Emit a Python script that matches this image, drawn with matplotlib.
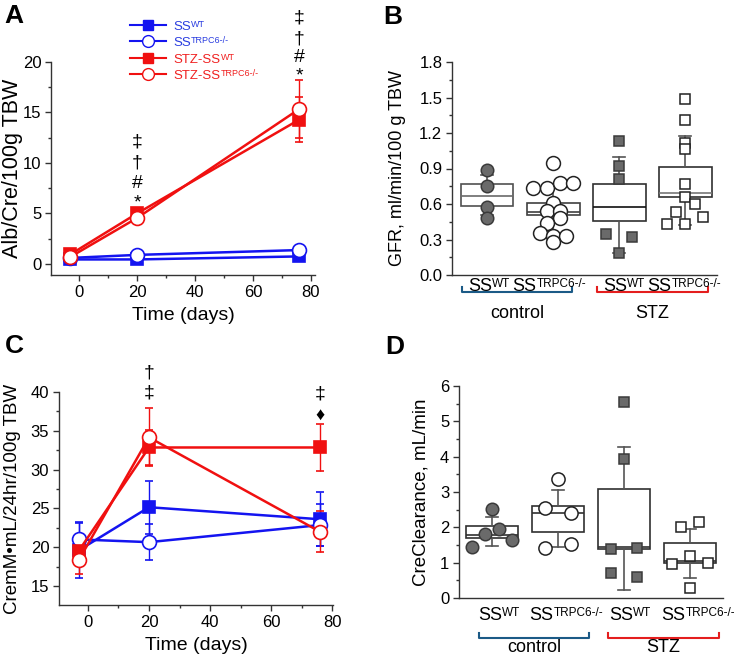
import matplotlib
matplotlib.use("Agg")
import matplotlib.pyplot as plt
from matplotlib.lines import Line2D
from matplotlib.ticker import MultipleLocator, FormatStrFormatter

plt.rcParams['font.family'] = ['Liberation Sans', 'DejaVu Sans']

# ---------------- data ----------------
days = [-3, 20, 76]
series_base = ['SS', 'SS', 'STZ-SS', 'STZ-SS']
series_sup = ['WT', 'TRPC6-/-', 'WT', 'TRPC6-/-']

# Panel A: Alb/Cre
a_ss_wt = [0.45, 0.45, 0.75]
a_ss_wt_err = [0.2, 0.2, 0.3]
a_ss_ko = [0.6, 0.9, 1.38]
a_ss_ko_err = [0.3, 0.35, 0.4]
a_stz_wt = [0.95, 5.0, 14.3]
a_stz_wt_err = [0.3, 0.3, 2.2]
a_stz_ko = [0.7, 4.55, 15.35]
a_stz_ko_err = [0.4, 0.35, 2.9]

# Panel C: CremM
c_ss_wt = [19.6, 25.15, 23.6]
c_ss_wt_err = [3.6, 3.4, 3.5]
c_ss_ko = [21.0, 20.65, 22.85]
c_ss_ko_err = [2.1, 2.3, 2.7]
c_stz_wt = [19.55, 32.85, 32.85]
c_stz_wt_err = [1.5, 2.3, 3.0]
c_stz_ko = [18.35, 34.15, 22.0]
c_stz_ko_err = [1.8, 3.75, 2.65]

group_base = ['SS', 'SS', 'SS', 'SS']
group_sup = ['WT', 'TRPC6-/-', 'WT', 'TRPC6-/-']
condition_labels = ['control', 'STZ']

# Panel B: GFR box stats (q1, median, q3, whisker low, whisker high)
b_q1 = [0.583, 0.505, 0.456, 0.657]
b_med = [0.665, 0.535, 0.572, 0.696]
b_q3 = [0.767, 0.611, 0.769, 0.916]
b_wlo = [0.507, 0.355, 0.189, 0.42]
b_whi = [0.845, 0.752, 0.995, 1.175]
b_pts = [
    [0.888, 0.75, 0.577, 0.485],
    [0.944, 0.738, 0.733, 0.78, 0.778, 0.606, 0.544, 0.541, 0.479, 0.442, 0.352, 0.332, 0.332, 0.282],
    [1.133, 0.921, 0.809, 0.347, 0.324, 0.189],
    [1.485, 1.31, 1.118, 1.062, 0.767, 0.662, 0.598, 0.535, 0.488, 0.428, 0.428],
]
b_pts_x = [
    [0, 0, 0, 0],
    [0, -0.3, -0.1, 0.1, 0.3, 0, -0.1, 0.1, 0.1, -0.1, -0.2, 0, 0.2, 0],
    [0, 0, 0, -0.2, 0.2, 0],
    [0, 0, 0, 0, 0, 0, 0.14, -0.14, 0.27, -0.27, 0],
]

# Panel D: CreClearance
d_q1 = [1.69, 1.88, 1.39, 0.98]
d_med = [1.78, 2.40, 1.44, 1.06]
d_q3 = [2.05, 2.60, 3.09, 1.55]
d_wlo = [1.47, 1.45, 0.23, 0.56]
d_whi = [2.28, 3.06, 4.28, 1.95]
d_pts = [
    [2.52, 1.96, 1.80, 1.64, 1.43],
    [3.38, 2.55, 2.40, 1.52, 1.42],
    [5.56, 3.93, 1.39, 1.41, 0.72, 0.59],
    [2.14, 2.02, 1.20, 0.97, 0.99, 0.28],
]
d_pts_x = [
    [0, 0.1, -0.1, 0.3, -0.3],
    [0, -0.2, 0.2, 0.2, -0.2],
    [0, 0, -0.2, 0.2, -0.2, 0.2],
    [0.14, -0.14, 0, -0.27, 0.27, 0],
]

# ---------------- figure ----------------
W, H = 734, 659
fig = plt.figure(figsize=(W / 100, H / 100), dpi=100)
renderer = fig.canvas.get_renderer()

def fx(px):
    return px / W

def fy(py):
    return 1 - py / H

def axes_px(l, t, r, b):
    return fig.add_axes([fx(l), fy(b), (r - l) / W, (b - t) / H])

def sup_text(x, y_center, base, sup, size, supsize, color='black', ha='center'):
    """Draw base text with a small superscript, in figure pixel coords."""
    cap = 0.716 * size * 100 / 72
    cap_s = 0.716 * supsize * 100 / 72
    yb = y_center + cap / 2
    t1 = fig.text(fx(x), fy(yb), base, fontsize=size, color=color, ha='left', va='baseline')
    t2 = fig.text(fx(x), fy(yb - (cap - cap_s)), sup, fontsize=supsize, color=color,
                  ha='left', va='baseline')
    w1 = t1.get_window_extent(renderer).width
    w2 = t2.get_window_extent(renderer).width
    left = x - (w1 + w2) / 2 if ha == 'center' else x
    t1.set_x(fx(left))
    t2.set_x(fx(left + w1 + 0.5))

BLUE = '#1414f0'
RED = '#f01010'
AX = '#333333'

def style_axes(ax):
    for s in ['top', 'right']:
        ax.spines[s].set_visible(False)
    for s in ['left', 'bottom']:
        ax.spines[s].set_color(AX)
        ax.spines[s].set_linewidth(1.0)
    ax.tick_params(which='both', direction='out', color=AX, width=1.0)
    ax.tick_params(which='major', length=4, labelsize=12, pad=3)
    ax.tick_params(which='minor', length=2.5)

sym_kw = dict(ha='center', va='center', fontsize=14, color='black', clip_on=False)

# ---------- Panel A ----------
axA = axes_px(51, 62, 315, 275)
style_axes(axA)
specA = [(a_ss_wt, a_ss_wt_err, BLUE, 's', BLUE),
         (a_ss_ko, a_ss_ko_err, BLUE, 'o', 'white'),
         (a_stz_wt, a_stz_wt_err, RED, 's', RED),
         (a_stz_ko, a_stz_ko_err, RED, 'o', 'white')]
for vals, err, col, mk, fc in specA:
    ms = 9 if mk == 's' else 10
    axA.errorbar(days, vals, yerr=err, color=col, lw=1.8, marker=mk, ms=ms,
                 mfc=fc, mec=col, mew=1.2, ecolor=col, elinewidth=1.0,
                 capsize=3, capthick=1.0, zorder=3)
axA.set_xlim(-9.66, 81.4)
axA.set_ylim(-1.09, 20)
axA.xaxis.set_major_locator(MultipleLocator(20))
axA.xaxis.set_minor_locator(MultipleLocator(10))
axA.yaxis.set_major_locator(MultipleLocator(5))
axA.yaxis.set_minor_locator(MultipleLocator(2.5))
axA.set_xlabel('Time (days)', fontsize=14, labelpad=5)
axA.set_ylabel('Alb/Cre/100g TBW', fontsize=15.5)
axA.yaxis.set_label_coords((23 - 51) / 264, 0.5)

# manual legend
leg_rows = [25, 41, 58, 74]
leg_cols = ['#2a3de0', '#2a3de0', '#f02020', '#f02020']
leg_mk = ['s', 'o', 's', 'o']
leg_fc = [BLUE, 'white', RED, 'white']
for y, c, mk, fc, base, sup, lc in zip(leg_rows, leg_cols, leg_mk, leg_fc, series_base, series_sup,
                                       [BLUE, BLUE, RED, RED]):
    fig.add_artist(Line2D([fx(130), fx(166)], [fy(y), fy(y)], transform=fig.transFigure,
                          color=lc, lw=1.5))
    fig.add_artist(Line2D([fx(148)], [fy(y)], transform=fig.transFigure, color=lc,
                          marker=mk, ms=7.5 if mk == 's' else 8.5, mfc=fc, mec=lc, mew=1.0))
    sup_text(173, y, base, sup, 9.5, 6.5, color=c, ha='left')

for x, ys in [(20, [12.1, 10.0, 8.0, 6.0]), (76, [24.4, 22.3, 20.4, 18.6])]:
    for y, s in zip(ys, ['\u2021', '\u2020', '#', '*']):
        axA.text(x, y, s, **sym_kw)

# ---------- Panel C ----------
axC = axes_px(59, 392, 333, 605)
style_axes(axC)
specC = [(c_ss_wt, c_ss_wt_err, BLUE, 's', BLUE),
         (c_ss_ko, c_ss_ko_err, BLUE, 'o', 'white'),
         (c_stz_wt, c_stz_wt_err, RED, 's', RED),
         (c_stz_ko, c_stz_ko_err, RED, 'o', 'white')]
for vals, err, col, mk, fc in specC:
    ms = 9 if mk == 's' else 10
    axC.errorbar(days, vals, yerr=err, color=col, lw=1.8, marker=mk, ms=ms,
                 mfc=fc, mec=col, mew=1.2, ecolor=col, elinewidth=1.0,
                 capsize=3, capthick=1.0, zorder=3)
axC.set_xlim(-9.5, 80.3)
axC.set_ylim(12.55, 40)
axC.xaxis.set_major_locator(MultipleLocator(20))
axC.xaxis.set_minor_locator(MultipleLocator(10))
axC.yaxis.set_major_locator(MultipleLocator(5))
axC.yaxis.set_minor_locator(MultipleLocator(2.5))
axC.set_xlabel('Time (days)', fontsize=14, labelpad=5)
axC.set_ylabel('CremM\u2022mL/24hr/100g TBW', fontsize=13.5)
axC.yaxis.set_label_coords((21 - 59) / 274, 0.5)
axC.text(20, 42.4, '\u2020', **sym_kw)
axC.text(20, 39.9, '\u2021', **sym_kw)
axC.text(76, 39.8, '\u2021', **sym_kw)
axC.text(76, 37.0, '\u2666', ha='center', va='center', fontsize=13, color='black', clip_on=False)

# ---------- Box panels ----------
def box_panel(ax, q1, med, q3, wlo, whi, edge_colors, med_colors):
    stats = []
    for i in range(4):
        stats.append(dict(q1=q1[i], med=med[i], q3=q3[i], whislo=wlo[i], whishi=whi[i], fliers=[]))
    bp = ax.bxp(stats, positions=[1, 2, 3, 4], widths=0.8, capwidths=0.18,
                showfliers=False, patch_artist=True,
                boxprops=dict(facecolor='white', edgecolor='#404040', linewidth=1.2),
                medianprops=dict(color='#555555', linewidth=1.2),
                whiskerprops=dict(color='#555555', linewidth=1.2),
                capprops=dict(color='#555555', linewidth=1.2))
    for i, b in enumerate(bp['boxes']):
        b.set_edgecolor(edge_colors[i])
        b.set_zorder(2)
    for i, m in enumerate(bp['medians']):
        m.set_color(med_colors[i])
        m.set_zorder(2.1)
    styles = [dict(marker='o', mfc='#6a6a6a', mec='#3a3a3a'),
              dict(marker='o', mfc='white', mec='#222222'),
              dict(marker='s', mfc='#6a6a6a', mec='#3a3a3a'),
              dict(marker='s', mfc='white', mec='#222222')]
    return bp, styles

# Panel B
axB = axes_px(452, 62, 717, 275)
style_axes(axB)
bpB, stB = box_panel(axB, b_q1, b_med, b_q3, b_wlo, b_whi,
                     ['#505050', '#404040', '#303030', '#303030'],
                     ['#6a6a6a', '#404040', '#111111', '#777777'])
b_ms = [9, 10, 7, 7.5]
for i in range(4):
    xs = [i + 1 + dx for dx in b_pts_x[i]]
    axB.plot(xs, b_pts[i], ls='none', ms=b_ms[i], mew=1.1, zorder=3, **stB[i])
axB.set_xlim(0.47, 4.48)
axB.set_ylim(0, 1.8)
axB.yaxis.set_major_locator(MultipleLocator(0.3))
axB.yaxis.set_minor_locator(MultipleLocator(0.15))
axB.yaxis.set_major_formatter(FormatStrFormatter('%.1f'))
axB.set_xticks([])
axB.set_ylabel('GFR, ml/min/100 g TBW', fontsize=13)
axB.yaxis.set_label_coords((406 - 452) / 265, 0.5)

# Panel D
axD = axes_px(459, 386, 723, 598)
style_axes(axD)
bpD, stD = box_panel(axD, d_q1, d_med, d_q3, d_wlo, d_whi, ['#303030'] * 4, ['#303030'] * 4)
d_ms = [9, 9.5, 7.5, 7.5]
for i in range(4):
    xs = [i + 1 + dx for dx in d_pts_x[i]]
    axD.plot(xs, d_pts[i], ls='none', ms=d_ms[i], mew=1.1, zorder=3, **stD[i])
axD.set_xlim(0.5, 4.5)
axD.set_ylim(0, 6)
axD.yaxis.set_major_locator(MultipleLocator(1))
axD.yaxis.set_minor_locator(MultipleLocator(0.5))
axD.set_xticks([])
axD.set_ylabel('CreClearance, mL/min', fontsize=13.5)
axD.yaxis.set_label_coords((430 - 459) / 264, 0.5)

# group labels + brackets
CTRL = '#1b5a86'
STZC = '#e41e1e'
def group_block(label_x, label_y, br, br_y, cond_y):
    for x, b, s in zip(label_x, group_base, group_sup):
        sup_text(x, label_y, b, s, 13, 8.5)
    for (x1, x2), col, cond in zip(br, [CTRL, STZC], condition_labels):
        fig.add_artist(Line2D([fx(x1), fx(x1), fx(x2), fx(x2)],
                              [fy(br_y - 5), fy(br_y), fy(br_y), fy(br_y - 5)],
                              transform=fig.transFigure, color=col, lw=1.5))
        fig.text(fx((x1 + x2) / 2), fy(cond_y), cond, ha='center', va='center', fontsize=13)

group_block([489, 549, 624, 684], 285, [(462, 572), (597, 708)], 292, 314)
group_block([499, 566, 630, 698], 614, [(479, 589), (608, 719)], 638, 648)

# panel letters
for x, y, s in [(14, 16, 'A'), (393, 17, 'B'), (14, 346, 'C'), (395, 347, 'D')]:
    fig.text(fx(x), fy(y), s, ha='center', va='center', fontsize=19, fontweight='bold')

fig.savefig('out.png', dpi=100)
